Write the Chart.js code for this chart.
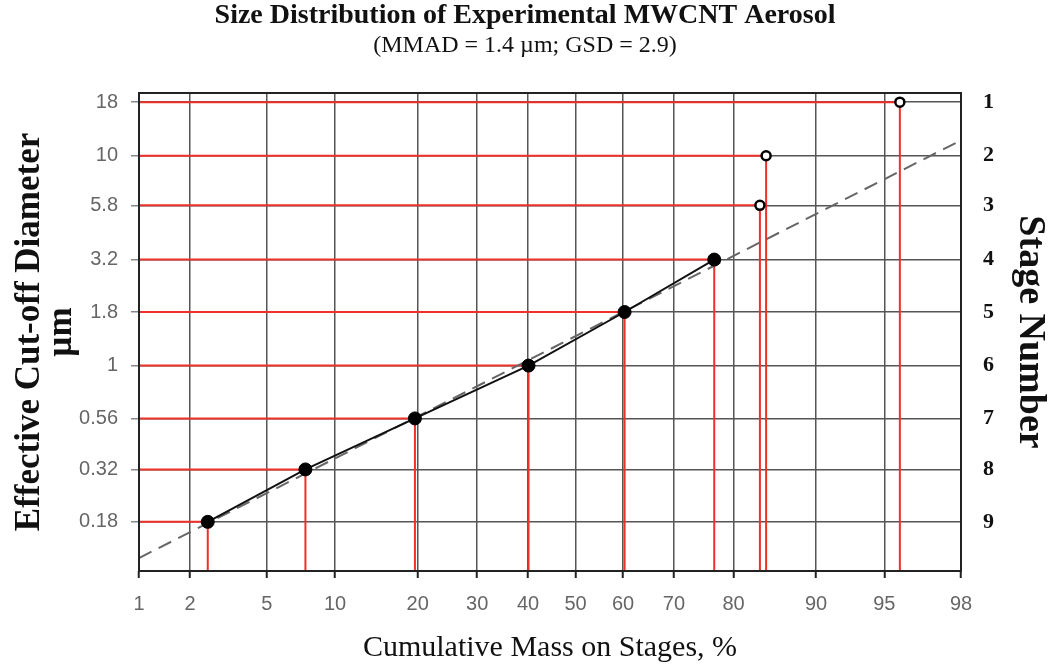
<!DOCTYPE html>
<html>
<head>
<meta charset="utf-8">
<script src="https://cdn.jsdelivr.net/npm/chart.js@4.4.1/dist/chart.umd.min.js"></script>
<style>
  html, body { margin: 0; background: #fff; }
</style>
</head>
<body>
<canvas id="chart" width="1050" height="664"></canvas>
<script>
// stage data
const stages = [1, 2, 3, 4, 5, 6, 7, 8, 9];
const cutoffDiameters = [18, 10, 5.8, 3.2, 1.8, 1, 0.56, 0.32, 0.18];
const cumulativeMass = [95.8, 84.5, 83.7, 77.0, 60.3, 40.1, 19.6, 7.5, 2.5];
const usedInFit = [false, false, false, true, true, true, true, true, true];

// fitted log-normal line (dashed), two end points
const fitMass = [1, 97.9];
const fitDiameter = [0.121, 11.6];

// tick labels
const percentTicks = [1, 2, 5, 10, 20, 30, 40, 50, 60, 70, 80, 90, 95, 98];
const diameterTicks = [0.18, 0.32, 0.56, 1, 1.8, 3.2, 5.8, 10, 18];
const stageTicks = [9, 8, 7, 6, 5, 4, 3, 2, 1];

const Y_MIN = 0.105;
const Y_MAX = 19.9;

// inverse normal cdf, used for the probability axis
function probit(pct) {
  const p = pct / 100;
  const a = [-39.69683028665376, 220.9460984245205, -275.9285104469687, 138.3577518672690, -30.66479806614716, 2.506628277459239];
  const b = [-54.47609879822406, 161.5858368580409, -155.6989798598866, 66.80131188771972, -13.28068155288572];
  const c = [-0.007784894002430293, -0.3223964580411365, -2.400758277161838, -2.549732539343734, 4.374664141464968, 2.938163982698783];
  const d = [0.007784695709041462, 0.3224671290700398, 2.445134137142996, 3.754408661907416];
  const pl = 0.02425;
  if (p < pl) {
    const q = Math.sqrt(-2 * Math.log(p));
    return (((((c[0]*q + c[1])*q + c[2])*q + c[3])*q + c[4])*q + c[5]) / ((((d[0]*q + d[1])*q + d[2])*q + d[3])*q + 1);
  }
  if (p > 1 - pl) {
    const q = Math.sqrt(-2 * Math.log(1 - p));
    return -(((((c[0]*q + c[1])*q + c[2])*q + c[3])*q + c[4])*q + c[5]) / ((((d[0]*q + d[1])*q + d[2])*q + d[3])*q + 1);
  }
  const q = p - 0.5, r = q * q;
  return (((((a[0]*r + a[1])*r + a[2])*r + a[3])*r + a[4])*r + a[5])*q / (((((b[0]*r + b[1])*r + b[2])*r + b[3])*r + b[4])*r + 1);
}

const X_MIN = probit(percentTicks[0]);
const X_MAX = probit(percentTicks[percentTicks.length - 1]);

// red guide lines: from left axis to the point, then down to the bottom axis
const guideSets = stages.map((s, i) => ({
  data: [
    { x: X_MIN, y: cutoffDiameters[i] },
    { x: probit(cumulativeMass[i]), y: cutoffDiameters[i] },
    { x: probit(cumulativeMass[i]), y: Y_MIN }
  ],
  showLine: true,
  borderColor: '#f0302a',
  borderWidth: 2,
  pointRadius: 0,
  fill: false
}));

const fitPoints = [];
const otherPoints = [];
stages.forEach((s, i) => {
  const pt = { x: probit(cumulativeMass[i]), y: cutoffDiameters[i] };
  if (usedInFit[i]) fitPoints.push(pt); else otherPoints.push(pt);
});

const framePlugin = {
  id: 'frame',
  afterDatasetsDraw(chart) {
    const { ctx, chartArea: a } = chart;
    ctx.save();
    ctx.strokeStyle = '#222';
    ctx.lineWidth = 2;
    ctx.strokeRect(a.left, a.top, a.right - a.left, a.bottom - a.top);
    ctx.restore();
  }
};

new Chart(document.getElementById('chart'), {
  type: 'scatter',
  data: {
    datasets: [
      {
        data: otherPoints,
        pointRadius: 4.5,
        pointBackgroundColor: '#fff',
        pointBorderColor: '#000',
        pointBorderWidth: 2.5,
        showLine: false
      },
      {
        data: fitPoints,
        pointRadius: 6.5,
        pointBackgroundColor: '#000',
        pointBorderColor: '#000',
        showLine: false
      },
      {
        data: fitPoints,
        showLine: true,
        borderColor: '#111',
        borderWidth: 2,
        pointRadius: 0
      },
      {
        data: fitMass.map((m, i) => ({ x: probit(m), y: fitDiameter[i] })),
        showLine: true,
        borderColor: '#666',
        borderWidth: 2,
        borderDash: [14, 8],
        pointRadius: 0
      },
      ...guideSets
    ]
  },
  options: {
    responsive: false,
    animation: false,
    layout: { padding: 0 },
    plugins: {
      legend: { display: false },
      tooltip: { enabled: false },
      title: {
        display: true,
        text: 'Size Distribution of Experimental MWCNT Aerosol',
        color: '#111',
        font: { family: 'Liberation Serif', size: 28, weight: 'bold', lineHeight: '28px' },
        padding: { top: 2, bottom: 3 }
      },
      subtitle: {
        display: true,
        text: '(MMAD = 1.4 \u00b5m; GSD = 2.9)',
        color: '#111',
        font: { family: 'Liberation Serif', size: 24, lineHeight: '26px' },
        padding: { top: 0, bottom: 34 }
      }
    },
    scales: {
      x: {
        type: 'linear',
        min: X_MIN,
        max: X_MAX,
        afterBuildTicks: scale => { scale.ticks = percentTicks.map(p => ({ value: probit(p) })); },
        afterFit: scale => { scale.height = 93; },
        ticks: {
          callback: (v, i) => String(percentTicks[i]),
          color: '#666',
          font: { family: 'Liberation Sans', size: 20 },
          padding: 14,
          maxRotation: 0,
          autoSkip: false
        },
        grid: { color: '#555', lineWidth: 1.5, tickLength: 7, tickColor: '#222', tickWidth: 2 },
        border: { display: false },
        title: {
          display: true,
          text: 'Cumulative Mass on Stages, %',
          color: '#111',
          font: { family: 'Liberation Serif', size: 30, lineHeight: '30px' },
          padding: { top: 0, bottom: 1 }
        }
      },
      y: {
        type: 'logarithmic',
        position: 'left',
        min: Y_MIN,
        max: Y_MAX,
        afterBuildTicks: scale => { scale.ticks = diameterTicks.map(v => ({ value: v })); },
        afterFit: scale => { scale.width = 139; },
        ticks: {
          callback: (v, i) => String(diameterTicks[i]),
          color: '#666',
          font: { family: 'Liberation Sans', size: 20 },
          padding: 13,
          autoSkip: false
        },
        grid: { color: '#555', lineWidth: 1.5, tickLength: 8, tickColor: '#888' },
        border: { display: false },
        title: {
          display: true,
          text: ['Effective Cut-off Diameter', '\u00b5m'],
          color: '#111',
          font: { family: 'Liberation Serif', size: 35, weight: 'bold', lineHeight: '32px' },
          padding: { top: 14, bottom: 0 }
        }
      },
      y2: {
        type: 'logarithmic',
        position: 'right',
        min: Y_MIN,
        max: Y_MAX,
        afterBuildTicks: scale => { scale.ticks = diameterTicks.map(v => ({ value: v })); },
        afterFit: scale => { scale.width = 89; },
        ticks: {
          callback: (v, i) => String(stageTicks[i]),
          color: '#111',
          font: { family: 'Liberation Serif', size: 22, weight: 'bold' },
          padding: 22,
          autoSkip: false
        },
        grid: { display: false, drawTicks: false },
        border: { display: false },
        title: {
          display: true,
          text: 'Stage Number',
          color: '#111',
          font: { family: 'Liberation Serif', size: 38, weight: 'bold', lineHeight: '36px' },
          padding: { top: 2, bottom: 0 }
        }
      }
    }
  },
  plugins: [framePlugin]
});
</script>
</body>
</html>
